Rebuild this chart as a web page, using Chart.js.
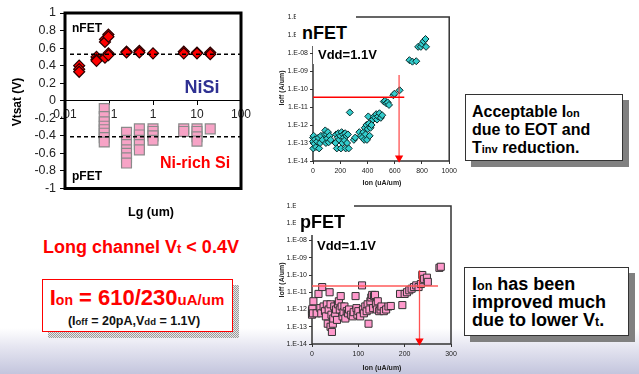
<!DOCTYPE html>
<html><head><meta charset="utf-8">
<script src="https://cdn.jsdelivr.net/npm/chart.js@4"></script>
<style>
html,body{margin:0;padding:0;width:639px;height:374px;overflow:hidden;background:#fff;font-family:"Liberation Sans",Arial,sans-serif;}
#bg{position:absolute;left:0;top:328px;width:639px;height:46px;background:linear-gradient(to bottom,#ffffff 0%,#e6e6f1 40%,#c3c5dd 100%);}
.box{position:absolute;}
.t{position:absolute;white-space:nowrap;font-weight:bold;line-height:1;}
.lc{transform:translateY(-50%);}
.cc{transform:translate(-50%,-50%);}
.rot{transform:translate(-50%,-50%) rotate(-90deg);}
.wb{position:absolute;background:#fff;}
</style></head><body>
<div id="bg"></div>
<div class="box" style="left:0;top:0;width:260px;height:200px"><canvas id="c1"></canvas></div>
<div class="box" style="left:260px;top:0;width:200px;height:195px"><canvas id="c2"></canvas></div>
<div class="box" style="left:260px;top:195px;width:200px;height:179px"><canvas id="c3"></canvas></div>

<!-- chart 1 texts -->
<div class="t rot" style="left:17px;top:102px;font-size:12px">Vtsat (V)</div>
<div class="t lc" style="left:72px;top:28px;font-size:12px">nFET</div>
<div class="t lc" style="left:72px;top:176px;font-size:12px">pFET</div>
<div class="t cc" style="left:202px;top:87px;font-size:18px;color:#2f3192">NiSi</div>
<div class="t cc" style="left:195px;top:163px;font-size:16px;color:#ff0000">Ni-rich Si</div>
<div class="t cc" style="left:151px;top:212px;font-size:12.5px">Lg (um)</div>
<div class="t lc" style="left:43px;top:247px;font-size:18px;color:#ff0000">Long channel V<span style="font-size:13px">t</span> &lt; 0.4V</div>

<div style="position:absolute;left:48px;top:285px;width:191px;height:53px;background:repeating-conic-gradient(#9a9a9a 0 25%,#e8e8e8 0 50%);background-size:2px 2px"></div>
<div style="position:absolute;left:42px;top:279px;width:191px;height:53px;box-sizing:border-box;border:1.5px solid #ff0000;background:#fff"></div>
<div class="t cc" style="left:137px;top:298px;font-size:22px;color:#ff0000">I<span style="font-size:14px">on</span> = 610/230<span style="font-size:15px">uA/um</span></div>
<div class="t cc" style="left:134px;top:321px;font-size:12.5px;color:#111">(I<span style="font-size:9.5px">off</span> = 20pA,V<span style="font-size:9.5px">dd</span> = 1.1V)</div>

<!-- right boxes -->
<div style="position:absolute;left:471px;top:100px;width:158px;height:67px;background:#808080"></div>
<div style="position:absolute;left:465px;top:94px;width:158px;height:67px;box-sizing:border-box;border:1px solid #333;background:#fff"></div>
<div class="t lc" style="left:472px;top:112px;font-size:16px">Acceptable I<span style="font-size:11px">on</span></div>
<div class="t lc" style="left:472px;top:130px;font-size:16px">due to EOT and</div>
<div class="t lc" style="left:472px;top:148px;font-size:16px">T<span style="font-size:11px">inv</span> reduction.</div>

<div style="position:absolute;left:470px;top:273px;width:165px;height:69px;background:#808080"></div>
<div style="position:absolute;left:464px;top:267px;width:165px;height:69px;box-sizing:border-box;border:1px solid #333;background:#fff"></div>
<div class="t lc" style="left:472px;top:284px;font-size:18px">I<span style="font-size:12.5px">on</span> has been</div>
<div class="t lc" style="left:472px;top:302px;font-size:18px">improved much</div>
<div class="t lc" style="left:472px;top:320px;font-size:18px">due to lower V<span style="font-size:12.5px">t</span>.</div>

<!-- chart 2 texts -->
<div class="wb" style="left:296px;top:8px;width:60px;height:38px"></div>
<div class="t lc" style="left:302px;top:33px;font-size:18px">nFET</div>
<div class="wb" style="left:313px;top:45px;width:76px;height:19px"></div>
<div class="t lc" style="left:318px;top:54px;font-size:13px">Vdd=1.1V</div>
<div class="t rot" style="left:281px;top:88px;font-size:7px;color:#222">Ioff (A/um)</div>
<div class="t cc" style="left:382px;top:182px;font-size:7px;color:#222">Ion (uA/um)</div>

<!-- chart 3 texts -->
<div class="wb" style="left:296px;top:197px;width:58px;height:38px"></div>
<div class="t lc" style="left:300px;top:222px;font-size:18px">pFET</div>
<div class="wb" style="left:313px;top:236px;width:74px;height:19px"></div>
<div class="t lc" style="left:317px;top:245px;font-size:13px">Vdd=1.1V</div>
<div class="t rot" style="left:281px;top:280px;font-size:7px;color:#222">Ioff (A/um)</div>
<div class="t cc" style="left:382px;top:367px;font-size:7px;color:#222">Ion (uA/um)</div>

<script>
const FAM = '"Liberation Sans", Arial, sans-serif';

// ---------- Chart 1: Vtsat vs Lg ----------
const lgTicks = [0.01, 0.1, 1, 10, 100];
const lgTickLabels = ['0.01', '0.1', '1', '10', '100'];
const vtTicks = [-1, -0.8, -0.6, -0.4, -0.2, 0, 0.2, 0.4, 0.6, 0.8, 1];
const vtTickLabels = ['-1', '-0.8', '-0.6', '-0.4', '-0.2', '0', '0.2', '0.4', '0.6', '0.8', '1'];

const nfetLg = [0.021, 0.021, 0.021, 0.052, 0.052, 0.052, 0.081, 0.081, 0.081, 0.097, 0.097, 0.097, 0.097, 0.25, 0.25, 0.49, 0.49, 1.0, 5, 5, 10, 10, 20, 20];
const nfetVt = [0.40, 0.36, 0.33, 0.50, 0.47, 0.455, 0.70, 0.67, 0.49, 0.755, 0.73, 0.54, 0.52, 0.56, 0.55, 0.57, 0.55, 0.54, 0.56, 0.54, 0.55, 0.54, 0.55, 0.53];

const pfetLg = [0.078, 0.078, 0.078, 0.078, 0.078, 0.078, 0.078, 0.078, 0.25, 0.25, 0.25, 0.25, 0.25, 0.25, 0.25, 0.49, 0.49, 0.49, 0.49, 0.49, 1.0, 1.0, 1.0, 1.0, 5, 5, 10, 10, 10, 10, 20];
const pfetVt = [-0.09, -0.18, -0.24, -0.29, -0.33, -0.37, -0.42, -0.47, -0.36, -0.45, -0.50, -0.56, -0.60, -0.65, -0.71, -0.32, -0.39, -0.45, -0.50, -0.56, -0.32, -0.35, -0.40, -0.45, -0.32, -0.35, -0.32, -0.35, -0.41, -0.46, -0.32];

const refLg = [0.013, 100];
const nfetRefVt = [0.53, 0.53];
const pfetRefVt = [-0.41, -0.41];

// ---------- Chart 2: nFET Ioff vs Ion ----------
const ioffTicks = [1e-14, 1e-13, 1e-12, 1e-11, 1e-10, 1e-9, 1e-8, 1e-7, 1e-6];
const ioffTickLabels = ['1.E-14', '1.E-13', '1.E-12', '1.E-11', '1.E-10', '1.E-09', '1.E-08', '1.E-07', '1.E-06'];
const nIonTicks = [0, 200, 400, 600, 800, 1000];
const pIonTicks = [0, 100, 200, 300];

const nIon = [0, 0, 2, 5, 10, 15, 22, 30, 40, 45, 52, 58, 70, 85, 90, 95, 100, 105, 110, 115, 122, 130,
  165, 170, 175, 182, 186, 192, 200, 205, 210, 216, 222, 226, 232, 236, 240, 246, 250, 256, 262, 270,
  300, 310, 340, 352, 362, 370, 376, 380, 386, 392, 396, 402, 406, 410, 416, 422, 430,
  440, 448, 456, 464, 470, 478, 488, 498, 508, 520, 528, 538, 548, 558,
  590, 598, 636, 708, 730, 758, 772, 792, 800, 812, 826, 830];
const nIoff = [2e-13, 1.2e-13, 5e-14, 2.5e-13, 9e-14, 1.6e-13, 6e-14, 1.2e-13, 2e-13, 5e-14, 1e-13, 2.5e-13, 1.5e-13, 3e-13, 5e-13, 1e-13, 3e-13, 1.8e-13, 4e-13, 1.1e-13, 2.5e-13, 1.5e-13,
  1e-13, 3e-13, 5e-14, 2e-13, 3.5e-13, 1.5e-13, 2.5e-13, 5e-14, 4e-13, 1e-13, 3e-13, 2e-13, 1.4e-13, 3.5e-13, 5e-14, 2.5e-13, 1e-13, 3e-13, 5e-14, 5e-12,
  1.5e-13, 2e-13, 4e-13, 2.5e-13, 2e-13, 4e-13, 1.5e-13, 7e-13, 3e-13, 1e-12, 1.5e-13, 6e-13, 3e-12, 1.2e-12, 2.5e-13, 7e-13, 1e-12,
  2e-12, 3e-12, 2.5e-12, 4e-12, 2e-12, 3e-12, 4.5e-12, 2.5e-12, 3.5e-12, 2e-11, 2.2e-11, 1.6e-11, 1.8e-11, 1.3e-11,
  4.5e-11, 5.5e-11, 8.5e-11, 4e-9, 3.3e-9, 3.5e-9, 2.2e-8, 2.2e-8, 3.2e-8, 4.5e-8, 6e-8, 2.2e-8];
const nLimitIon = [0, 670];
const nLimitIoff = [3.5e-11, 3.5e-11];
const nOnIon = [632, 632];
const nOnIoff = [6e-10, 1.5e-14];

// ---------- Chart 3: pFET Ioff vs Ion ----------
const pIon = [0, 0, 0, 1, 2, 3, 10, 14, 18, 20, 22, 25, 28, 30, 32, 34, 36, 38, 40, 40, 42, 43, 45, 46, 48, 50, 52, 54, 56, 58, 60, 62, 64, 66, 68, 70, 72, 75, 78, 80, 84, 88, 90, 94, 96, 98, 100, 104, 108, 110, 112, 115, 118, 120, 122, 124, 126, 128, 130, 132, 134, 136, 138, 140, 142, 145, 148, 150, 155, 160, 165, 170, 195, 190, 200, 205, 210, 215, 220, 225, 230, 235, 238, 240, 242, 248, 250, 275, 278];
const pIoff = [5e-13, 7e-13, 9e-13, 1.1e-12, 6e-13, 3e-12, 6e-13, 8e-12, 1.2e-12, 6e-13, 2e-11, 1.5e-12, 8e-13, 4e-13, 2e-12, 1.5e-13, 1e-12, 1e-11, 2e-12, 1e-13, 5e-13, 5e-14, 1.5e-13, 3e-13, 1.5e-12, 6e-13, 1e-12, 2.5e-13, 2e-12, 3e-12, 1e-12, 6e-12, 1.5e-12, 4e-13, 7e-13, 1.5e-12, 3e-13, 8e-13, 6e-13, 1e-12, 5e-13, 4e-13, 7e-13, 6e-12, 1.2e-12, 5e-13, 8e-13, 4e-13, 2.5e-11, 1e-12, 6e-13, 1.5e-12, 8e-13, 2e-12, 1.5e-13, 1e-12, 3e-12, 5e-12, 7e-12, 1.2e-12, 6e-12, 7e-12, 2e-12, 1e-12, 3e-12, 8e-13, 1e-12, 1.5e-12, 8e-13, 1e-12, 1.5e-12, 1.6e-12, 1.8e-12, 8e-12, 8e-12, 1e-11, 1.3e-11, 1.6e-11, 2e-11, 2.5e-11, 2e-11, 3e-11, 1e-10, 5e-11, 6e-11, 7e-11, 4e-11, 2.6e-10, 3e-10];
const pLimitIon = [0, 272];
const pLimitIoff = [2.3e-11, 2.3e-11];
const pOnIon = [232, 232];
const pOnIoff = [1.9e-10, 1.5e-14];

// ---------- helpers ----------
const pts = (xs, ys) => xs.map((x, i) => ({x, y: ys[i]}));
const frame = (w, c) => ({
  id: 'frame',
  beforeDatasetsDraw(ch) {
    const a = ch.chartArea, ctx = ch.ctx;
    ctx.save(); ctx.strokeStyle = c; ctx.lineWidth = w;
    ctx.strokeRect(a.left, a.top, a.right - a.left, a.bottom - a.top);
    ctx.restore();
  }
});
const common = {responsive: true, maintainAspectRatio: false, animation: false,
  plugins: {legend: {display: false}, tooltip: {enabled: false}}};

// Chart 1
new Chart(document.getElementById('c1'), {
  type: 'scatter',
  data: {datasets: [
    {data: pts(refLg, nfetRefVt), showLine: true, borderColor: '#000', borderWidth: 1.3, borderDash: [4, 3], pointRadius: 0},
    {data: pts(refLg, pfetRefVt), showLine: true, borderColor: '#000', borderWidth: 1.3, borderDash: [4, 3], pointRadius: 0},
    {data: pts(nfetLg, nfetVt), pointStyle: 'rectRot', pointRadius: 5.5, backgroundColor: '#ff0000', borderColor: '#2a0000', borderWidth: 1.2},
    {data: pts(pfetLg, pfetVt), pointStyle: 'rect', pointRadius: 7, backgroundColor: '#f7a3c6', borderColor: '#8a8a8a', borderWidth: 1.2}
  ]},
  options: Object.assign({}, common, {
    layout: {padding: {left: 0, top: 13, right: 19, bottom: 0}},
    scales: {
      x: {type: 'logarithmic', min: 0.01, max: 100, position: {y: 0},
        afterFit(s) { s.height = 9; },
        afterBuildTicks(s) { s.ticks = lgTicks.map(v => ({value: v})); },
        ticks: {callback: (v, i) => lgTickLabels[i], font: {size: 12, family: FAM}, color: '#222', padding: 3, maxRotation: 0, autoSkip: false},
        grid: {drawOnChartArea: false, tickLength: 4, color: '#000'},
        border: {display: true, color: '#000', width: 1}},
      y: {type: 'linear', min: -1, max: 1,
        afterFit(s) { s.width = 65; },
        afterBuildTicks(s) { s.ticks = vtTicks.map(v => ({value: v})); },
        ticks: {callback: (v, i) => vtTickLabels[i], font: {size: 12.5, family: FAM}, color: '#222', padding: 4, autoSkip: false},
        grid: {drawOnChartArea: false, tickLength: 5, color: '#000'},
        border: {display: false}}
    }
  }),
  plugins: [frame(3, '#000')]
});

function ionChart(id, ions, ioffs, lim, on, xTicks, yWidth, padTop, padRight, xHeight, ptStyle, ptR, ptFill, ptBorder, limColor) {
  new Chart(document.getElementById(id), {
    type: 'scatter',
    data: {datasets: [
      {data: pts(lim[0], lim[1]), showLine: true, borderColor: limColor, borderWidth: 1.6, pointRadius: 0, clip: false},
      {data: pts(on[0], on[1]), showLine: true, borderColor: 'rgba(255,40,40,0.8)', borderWidth: 1.3,
        pointRadius: [0, 3.5], pointStyle: 'triangle', rotation: 180, backgroundColor: '#ff0000', pointBorderColor: '#ff0000', clip: false},
      {data: pts(ions, ioffs), pointStyle: ptStyle, pointRadius: ptR, backgroundColor: ptFill, borderColor: ptBorder, borderWidth: 1, clip: false}
    ]},
    options: Object.assign({}, common, {
      layout: {padding: {left: 0, top: padTop, right: padRight, bottom: 0}},
      scales: {
        x: {type: 'linear', min: xTicks[0], max: xTicks[xTicks.length - 1],
          afterFit(s) { s.height = xHeight; },
          afterBuildTicks(s) { s.ticks = xTicks.map(v => ({value: v})); },
          ticks: {callback: (v, i) => String(xTicks[i]), font: {size: 7, family: FAM}, color: '#222', padding: 3, maxRotation: 0, autoSkip: false},
          grid: {drawOnChartArea: false, tickLength: 3, color: '#333'},
          border: {display: false}},
        y: {type: 'logarithmic', min: 1e-14, max: 1e-6,
          afterFit(s) { s.width = yWidth; },
          afterBuildTicks(s) { s.ticks = ioffTicks.map(v => ({value: v})); },
          ticks: {callback: (v, i) => ioffTickLabels[i], font: {size: 7, family: FAM}, color: '#222', padding: 2, autoSkip: false},
          grid: {drawOnChartArea: false, tickLength: 3, color: '#333'},
          border: {display: false}}
      }
    }),
    plugins: [frame(1.5, '#333')]
  });
}

ionChart('c2', nIon, nIoff, [nLimitIon, nLimitIoff], [nOnIon, nOnIoff], nIonTicks, 53, 17, 8, 34,
  'rectRot', 3.5, '#33cccc', '#0a2a2a', '#ff0000');
ionChart('c3', pIon, pIoff, [pLimitIon, pLimitIoff], [pOnIon, pOnIoff], pIonTicks, 52, 11, 9, 30,
  'rect', 5, '#ff99cc', '#333333', '#ff5a5a');
</script>
</body></html>
